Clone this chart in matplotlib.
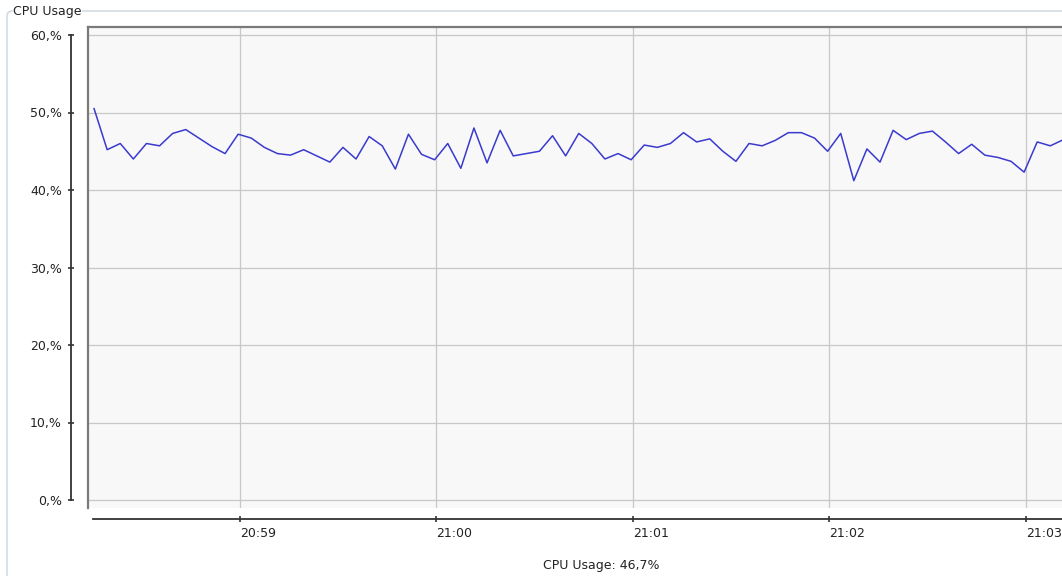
"""CPU usage monitor panel (JFreeChart-style look)."""
import matplotlib
matplotlib.use("Agg")
import matplotlib.pyplot as plt
import matplotlib.dates as mdates
from matplotlib.lines import Line2D
from matplotlib.ticker import FuncFormatter, MultipleLocator
import pandas as pd

# samples every 4 s (percent)
cpu = [
    50.5, 45.2, 46.0, 44.0, 46.0, 45.7, 47.3, 47.8, 46.7, 45.6,
    44.7, 47.2, 46.7, 45.5, 44.7, 44.5, 45.2, 44.4, 43.6, 45.5,
    44.0, 46.9, 45.7, 42.7, 47.2, 44.6, 43.9, 46.0, 42.8, 48.0,
    43.5, 47.7, 44.4, 44.7, 45.0, 47.0, 44.4, 47.3, 46.0, 44.0,
    44.7, 43.9, 45.8, 45.5, 46.0, 47.4, 46.2, 46.6, 45.0, 43.7,
    46.0, 45.7, 46.4, 47.4, 47.4, 46.7, 45.0, 47.3, 41.2, 45.3,
    43.6, 47.7, 46.5, 47.3, 47.6, 46.2, 44.7, 45.9, 44.5, 44.2,
    43.7, 42.3, 46.2, 45.7, 46.5,
]
times = pd.date_range("2024-01-01 20:58:15.5", periods=len(cpu), freq="4s")
current = "CPU Usage: 46,7%"

t_left = mdates.date2num(pd.Timestamp("2024-01-01 20:58:13.65"))
t_right = mdates.date2num(pd.Timestamp("2024-01-01 21:03:11.07"))
t_axis0 = mdates.date2num(pd.Timestamp("2024-01-01 20:58:15.3"))

W, H = 1062, 576
fig = plt.figure(figsize=(W / 100, H / 100), dpi=100, facecolor="white")

# plot area: left 88px, top 27px, bottom 508px, runs off the right edge
ax = fig.add_axes([88 / W, 1 - 508 / H, 1 - 88 / W, (508 - 27) / H])
ax.set_facecolor("#f8f8f8")

ax.plot(mdates.date2num(times), cpu, color="#3a3acf", lw=1.1, zorder=3)

ax.set_ylim(-8 / 7.75, 60 + 8 / 7.75)
ax.set_xlim(t_left, t_right)

ax.yaxis.set_major_locator(MultipleLocator(10))
ax.yaxis.set_major_formatter(FuncFormatter(lambda v, p: f"{int(round(v))},%"))
ax.xaxis.set_major_locator(mdates.MinuteLocator())
ax.xaxis.set_major_formatter(mdates.DateFormatter("%H:%M"))

ax.grid(True, color="#c8c8c8", lw=0.9, zorder=1)

for s in ("top", "right"):
    ax.spines[s].set_visible(False)
ax.spines["left"].set_position(("outward", 17 * 0.72))
ax.spines["left"].set_bounds(0, 60)
ax.spines["bottom"].set_position(("outward", 11 * 0.72))
ax.spines["bottom"].set_bounds(t_axis0, t_right)
for s in ("left", "bottom"):
    ax.spines[s].set_color("#333333")
    ax.spines[s].set_linewidth(1.3)

ax.tick_params(axis="both", direction="inout", length=5, width=1.2,
               color="#333333", labelsize=9, labelcolor="#222222")
ax.tick_params(axis="y", pad=4)
ax.tick_params(axis="x", pad=3)
for lbl in ax.get_xticklabels():
    lbl.set_ha("left")

# plot frame (left and top edges only)
for xs, ys in (([0, 0], [0, 1]), ([0, 1], [1, 1])):
    ax.add_line(Line2D(xs, ys, transform=ax.transAxes, color="#7a7a7a",
                       lw=1.6, clip_on=False, zorder=4))

# group box around the panel
box = "#d3dce3"
fig.add_artist(Line2D([7 / W, 7 / W, 8 / W, 10 / W, 12 / W],
                      [0, 1 - 15 / H, 1 - 12.7 / H, 1 - 11.3 / H, 1 - 11 / H],
                      transform=fig.transFigure, color=box, lw=1.2))
fig.add_artist(Line2D([83 / W, 1], [1 - 11 / H, 1 - 11 / H],
                      transform=fig.transFigure, color=box, lw=1.2))
fig.text(13 / W, 1 - 11 / H, "CPU Usage", fontsize=9, color="#222222",
         ha="left", va="center")

fig.text(601 / W, 1 - 565 / H, current, fontsize=9, color="#222222",
         ha="center", va="center")

fig.savefig("out.png", dpi=100, facecolor="white")
